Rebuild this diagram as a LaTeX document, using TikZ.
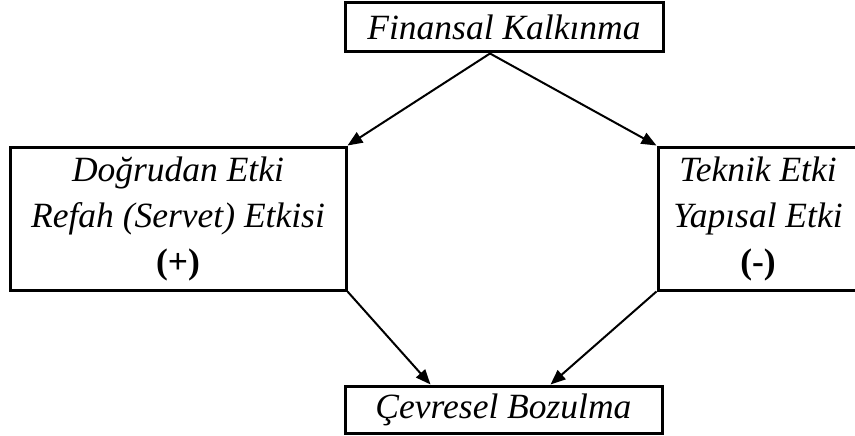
\documentclass[tikz,border=0pt]{standalone}
\usepackage{fontspec}
\setmainfont{Liberation Serif}
\usetikzlibrary{arrows.meta}
\tikzstyle{kutu}=[rectangle,draw=black,line width=3pt,fill=white,
  text centered,align=center,inner sep=0pt,
  font=\fontsize{35.5}{46}\selectfont\itshape]
\tikzstyle{ok}=[-{Triangle[length=15pt,width=12pt]},line width=2pt]

\begin{document}
\begin{tikzpicture}[x=1pt,y=-1pt]
  \useasboundingbox (0,0) rectangle (855,436);

  % Kutular
  \node[kutu,minimum width=318pt,minimum height=49pt] (fin) at (504,27.5) {Finansal Kalkınma};
  \node[kutu,minimum width=336pt,minimum height=143pt] (dogrudan) at (178,218.5)
    {Doğrudan Etki\\Refah (Servet) Etkisi\\\textup{\textbf{(+)}}};
  \node[kutu,minimum width=200pt,minimum height=143pt] (teknik) at (758,218.5)
    {Teknik Etki\\Yapısal Etki\\\textup{\textbf{(-)}}};
  \node[kutu,minimum width=317pt,minimum height=47pt] (cevre) at (503.5,409.5) {Çevresel Bozulma};

  % Oklar
  \draw[ok] ([xshift=-14pt]fin.south) -- (dogrudan.north east);
  \draw[ok] ([xshift=-14pt]fin.south) -- (teknik.north west);
  \draw[ok] (dogrudan.south east) -- ([xshift=-73pt]cevre.north);
  \draw[ok] (teknik.south west) -- ([xshift=47pt]cevre.north);

\end{tikzpicture}
\end{document}
